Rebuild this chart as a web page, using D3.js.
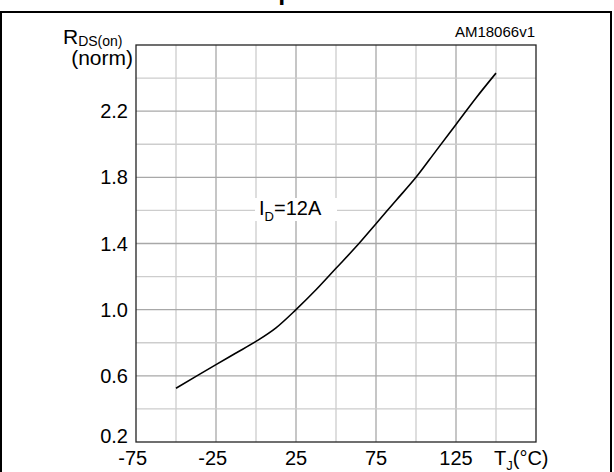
<!DOCTYPE html>
<html>
<head>
<meta charset="utf-8">
<script src="https://cdn.jsdelivr.net/npm/d3@7"></script>
<style>
  body { margin: 0; background: #fff; }
  svg { display: block; font-family: "Liberation Sans", Arial, sans-serif; }
</style>
</head>
<body>
<div id="chart"></div>
<script>
// RDS(on) normalised vs junction temperature, ID = 12 A
var tempC = [-50, -37.5, -25, -12.5, 0, 12.5, 25, 37.5, 50, 62.5, 75, 87.5, 100, 112.5, 125, 137.5, 150];
var rdsNorm = [0.525, 0.597, 0.668, 0.738, 0.808, 0.89, 1.0, 1.12, 1.25, 1.38, 1.52, 1.66, 1.8, 1.96, 2.12, 2.28, 2.43];
var xTickLabels = [-75, -25, 25, 75, 125];
var yTickLabels = [0.2, 0.6, 1.0, 1.4, 1.8, 2.2];
var xGrid = d3.range(-75, 176, 25);
var yGrid = d3.range(0.2, 2.61, 0.2);

var width = 614, height = 472;
var margin = {left: 136, right: 78, top: 45, bottom: 30};

var svg = d3.select('#chart')
    .append('svg')
    .attr('width', width)
    .attr('height', height);

var x = d3.scaleLinear().domain([-75, 175]).range([margin.left, width - margin.right]);
var y = d3.scaleLinear().domain([0.2, 2.6]).range([height - margin.bottom, margin.top]);

// cut-off title from the page above
svg.append('text')
    .attr('x', 306)
    .attr('y', 0)
    .attr('text-anchor', 'middle')
    .attr('font-size', 25)
    .attr('font-weight', 'bold')
    .text('temperature');

// outer frame
svg.append('rect')
    .attr('x', 1)
    .attr('y', 12)
    .attr('width', 610)
    .attr('height', 470)
    .attr('fill', 'none')
    .attr('stroke', '#000')
    .attr('stroke-width', 2);

var isMajorX = function(d) { return xTickLabels.indexOf(d) >= 0; };
var isMajorY = function(d) { return yTickLabels.some(function(v) { return Math.abs(v - d) < 1e-6; }); };

// grid
var grid = svg.append('g');
grid.selectAll('.vx')
    .data(xGrid.slice(1, -1))
    .enter().append('line')
    .attr('x1', function(d) { return x(d); })
    .attr('x2', function(d) { return x(d); })
    .attr('y1', y(0.2))
    .attr('y2', y(2.6))
    .attr('stroke', function(d) { return isMajorX(d) ? '#a8a8a8' : '#cdcdcd'; })
    .attr('stroke-width', 1.3);
grid.selectAll('.hy')
    .data(yGrid.slice(1, -1))
    .enter().append('line')
    .attr('x1', x(-75))
    .attr('x2', x(175))
    .attr('y1', function(d) { return y(d); })
    .attr('y2', function(d) { return y(d); })
    .attr('stroke', function(d) { return isMajorY(d) ? '#a8a8a8' : '#cdcdcd'; })
    .attr('stroke-width', 1.3);

// plot border
svg.append('rect')
    .attr('x', x(-75))
    .attr('y', y(2.6))
    .attr('width', x(175) - x(-75))
    .attr('height', y(0.2) - y(2.6))
    .attr('fill', 'none')
    .attr('stroke', '#222')
    .attr('stroke-width', 1.3);

// curve
var line = d3.line()
    .x(function(d, i) { return x(tempC[i]); })
    .y(function(d) { return y(d); })
    .curve(d3.curveMonotoneX);

svg.append('path')
    .datum(rdsNorm)
    .attr('d', line)
    .attr('fill', 'none')
    .attr('stroke', '#000')
    .attr('stroke-width', 1.6);

// x tick labels (digits centred, minus sign hangs left)
svg.selectAll('.xl')
    .data(xTickLabels)
    .enter().append('text')
    .attr('x', function(d) { return x(d); })
    .attr('y', 465)
    .attr('dx', function(d) { return d < 0 ? -3.3 : 0; })
    .attr('text-anchor', 'middle')
    .attr('font-size', 20)
    .text(function(d) { return d; });

// y tick labels
svg.selectAll('.yl')
    .data(yTickLabels)
    .enter().append('text')
    .attr('x', x(-75) - 8)
    .attr('y', function(d) { return y(d) + (d === 0.2 ? 1 : 7); })
    .attr('text-anchor', 'end')
    .attr('font-size', 20)
    .text(function(d) { return d.toFixed(1); });

// y axis title
var yt = svg.append('text').attr('x', 63).attr('y', 44).attr('font-size', 21);
yt.append('tspan').text('R');
yt.append('tspan').attr('font-size', 14).attr('dy', 2).text('DS(on)');
svg.append('text')
    .attr('x', 133)
    .attr('y', 65)
    .attr('text-anchor', 'end')
    .attr('font-size', 21)
    .text('(norm)');

// x axis title
var xt = svg.append('text').attr('x', 494).attr('y', 465).attr('font-size', 20);
xt.append('tspan').text('T');
xt.append('tspan').attr('font-size', 13).attr('dy', 5).text('J');
xt.append('tspan').attr('dy', -5).text('(°C)');

// figure code
svg.append('text')
    .attr('x', 535)
    .attr('y', 37)
    .attr('text-anchor', 'end')
    .attr('font-size', 15)
    .text('AM18066v1');

// curve label on white patch
svg.append('rect')
    .attr('x', 255)
    .attr('y', 198)
    .attr('width', 82)
    .attr('height', 23)
    .attr('fill', '#fff');
var lbl = svg.append('text').attr('x', 259).attr('y', 215).attr('font-size', 20);
lbl.append('tspan').text('I');
lbl.append('tspan').attr('font-size', 13).attr('dy', 6).text('D');
lbl.append('tspan').attr('dy', -6).text('=12A');
</script>
</body>
</html>
